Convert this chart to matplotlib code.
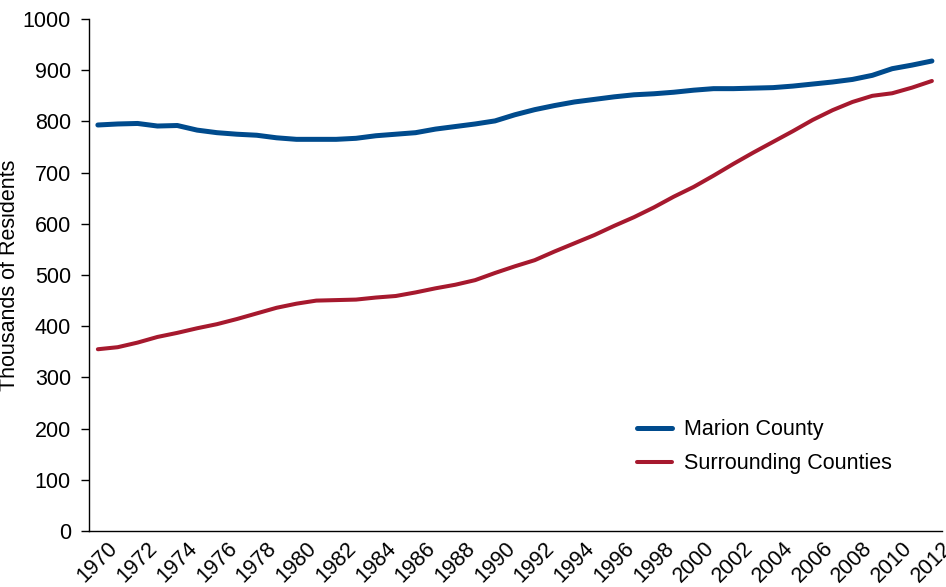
import matplotlib
matplotlib.use("Agg")
import matplotlib.pyplot as plt

# ── Data (thousands of residents) ────────────────────────────────────────────

years = list(range(1970, 2013))

marion = [793, 795, 796, 791, 792, 783, 778, 775, 773, 768,
          765, 765, 765, 767, 772, 775, 778, 785, 790, 795,
          801, 813, 823, 831, 838, 843, 848, 852, 854, 857,
          861, 864, 864, 865, 866, 869, 873, 877, 882, 890,
          903, 910, 918]

surrounding = [355, 359, 368, 379, 387, 396, 404, 414, 425, 436,
               444, 450, 451, 452, 456, 459, 466, 474, 481, 490,
               504, 517, 529, 546, 562, 578, 596, 613, 632, 653,
               672, 694, 717, 739, 760, 781, 803, 822, 838, 850,
               855, 866, 879]

tick_years = years[::2]
yticks = list(range(0, 1001, 100))

BLUE = "#004B8D"
RED = "#A6192E"
FS = 15.5

plt.rcParams["font.family"] = ["Liberation Sans", "DejaVu Sans"]

# ── Figure ───────────────────────────────────────────────────────────────────

fig = plt.figure(figsize=(9.46, 5.87), dpi=100)
ax = fig.add_axes([0.094, 0.0954, 0.9016, 0.8722])

ax.plot(years, marion, color=BLUE, linewidth=3.6, solid_capstyle="round",
        label="Marion County")
ax.plot(years, surrounding, color=RED, linewidth=2.9, solid_capstyle="round",
        label="Surrounding Counties")

ax.set_xlim(1969.55, 2012.5)
ax.set_ylim(0, 1000)
ax.set_yticks(yticks)
ax.set_xticks(tick_years)
ax.set_xticklabels([str(y) for y in tick_years], rotation=45, ha="center")

ax.tick_params(axis="y", direction="out", length=6, width=1, pad=7,
               labelsize=FS)
ax.tick_params(axis="x", length=0, pad=5, labelsize=FS)

for side in ("top", "right"):
    ax.spines[side].set_visible(False)
for side in ("left", "bottom"):
    ax.spines[side].set_linewidth(1.0)

ax.set_ylabel("Thousands of Residents", fontsize=FS)
ax.yaxis.set_label_coords(-0.081, 0.5)

ax.legend(loc="upper left", bbox_to_anchor=(0.6424, 0.218), frameon=False,
          fontsize=FS, handlelength=1.65, handletextpad=0.55,
          labelspacing=0.6, borderpad=0, borderaxespad=0)

fig.savefig("out.png", dpi=100)
